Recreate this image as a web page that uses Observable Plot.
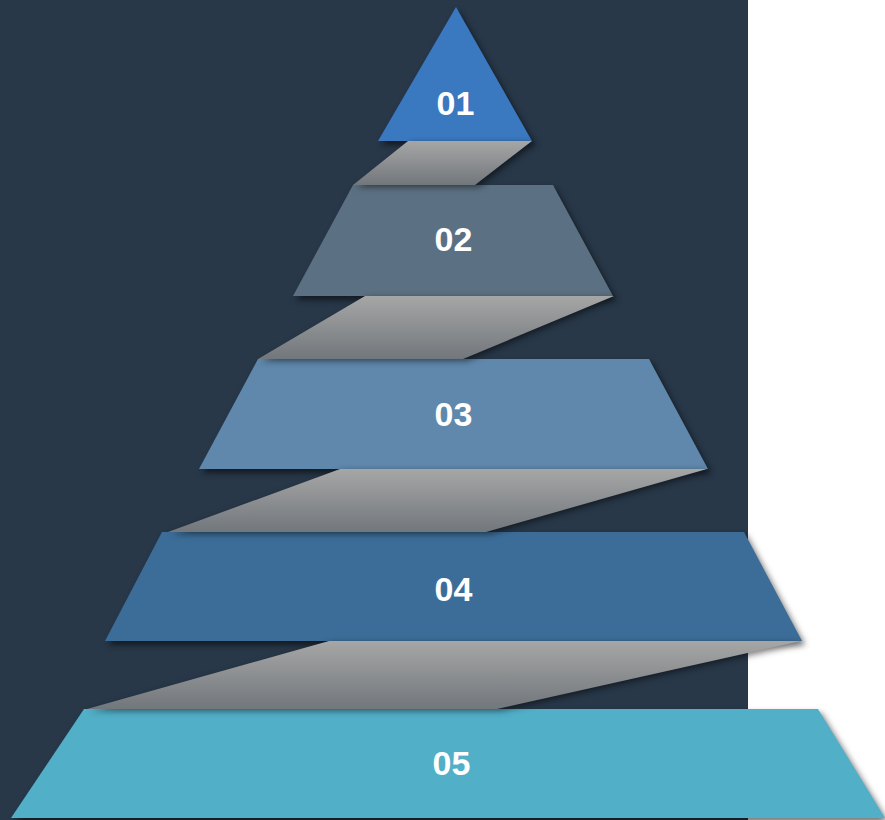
<!DOCTYPE html>
<html>
<head>
<meta charset="utf-8">
<script src="https://cdn.jsdelivr.net/npm/d3@7"></script>
<script src="https://cdn.jsdelivr.net/npm/@observablehq/plot@0.6"></script>
<style>
  html, body { margin: 0; padding: 0; background: #ffffff; }
  #chart svg { display: block; }
</style>
</head>
<body>
<div id="chart"></div>
<script>
// Pyramid levels (chart units: x across 0–885, y down 0–820)
const labels       = ["01", "02", "03", "04", "05"];
const levelTop     = [7, 185, 359, 532, 709];
const levelBottom  = [141, 296, 469, 641, 818];
const topLeft      = [456, 353, 258, 162, 84];
const topRight     = [456, 553, 649, 744, 818];
const bottomLeft   = [378, 293, 199, 105, 11];
const bottomRight  = [532, 613, 708, 802, 885];
const labelX       = [455, 453, 453, 453, 451];
const labelY       = [104, 240, 415, 590, 764];
const levelColors  = ["#3a78c0", "#5b7082", "#5f88ac", "#3c6d98", "#51afc8"];

// Gray ribbons linking consecutive levels
const linkTopLeft     = [408, 365, 340, 329];
const linkTopRight    = [532, 614, 707, 801];
const linkBottomLeft  = [353, 258, 168, 87];
const linkBottomRight = [475, 463, 486, 497];

// Dark panel behind the pyramid
const panel = [{x1: 0, x2: 748, y1: 0, y2: 820}];

const levelRows = labels.flatMap((label, i) => [
  {label, y: levelTop[i], x1: topLeft[i], x2: topRight[i], color: levelColors[i]},
  {label, y: levelBottom[i], x1: bottomLeft[i], x2: bottomRight[i], color: levelColors[i]}
]);
const linkRows = linkTopLeft.flatMap((_, i) => [
  {id: "L" + i, y: levelBottom[i], x1: linkTopLeft[i], x2: linkTopRight[i]},
  {id: "L" + i, y: levelTop[i + 1], x1: linkBottomLeft[i], x2: linkBottomRight[i]}
]);
const labelRows = labels.map((label, i) => ({label, x: labelX[i], y: labelY[i]}));

const chart = Plot.plot({
  width: 885,
  height: 820,
  margin: 0,
  style: {background: "#ffffff", overflow: "visible"},
  x: {domain: [0, 885], range: [0, 885], axis: null},
  y: {domain: [0, 820], range: [0, 820], axis: null},
  color: {type: "identity"},
  marks: [
    Plot.rect(panel, {x1: "x1", x2: "x2", y1: "y1", y2: "y2", fill: "#283849"}),
    Plot.areaX(levelRows, {y: "y", x1: "x1", x2: "x2", z: "label", fill: "color"}),
    Plot.areaX(linkRows, {y: "y", x1: "x1", x2: "x2", z: "id", fill: "#999999"}),
    Plot.text(labelRows, {x: "x", y: "y", text: "label", fill: "#ffffff", fontSize: 34, fontWeight: "bold",
      fontFamily: "'Liberation Sans', Arial, sans-serif", textAnchor: "middle"})
  ]
});

// gradient + shadows
const ns = "http://www.w3.org/2000/svg";
const defs = document.createElementNS(ns, "defs");
defs.innerHTML = `<linearGradient id="linkGrad" x1="0" y1="0" x2="0" y2="1">
  <stop offset="0" stop-color="#a6a6a6"/>
  <stop offset="1" stop-color="#72777c"/>
</linearGradient>`;
chart.insertBefore(defs, chart.firstChild);
const areas = chart.querySelectorAll('g[aria-label="area"]');
if (areas[0]) areas[0].style.filter = "drop-shadow(3px 4px 3px rgba(0,0,0,0.55))";
if (areas[1]) {
  areas[1].style.filter = "drop-shadow(4px 2px 3px rgba(0,0,0,0.5))";
  areas[1].querySelectorAll("path").forEach(p => p.setAttribute("fill", "url(#linkGrad)"));
  areas[1].setAttribute("fill", "url(#linkGrad)");
}

document.getElementById("chart").appendChild(chart);
</script>
</body>
</html>
